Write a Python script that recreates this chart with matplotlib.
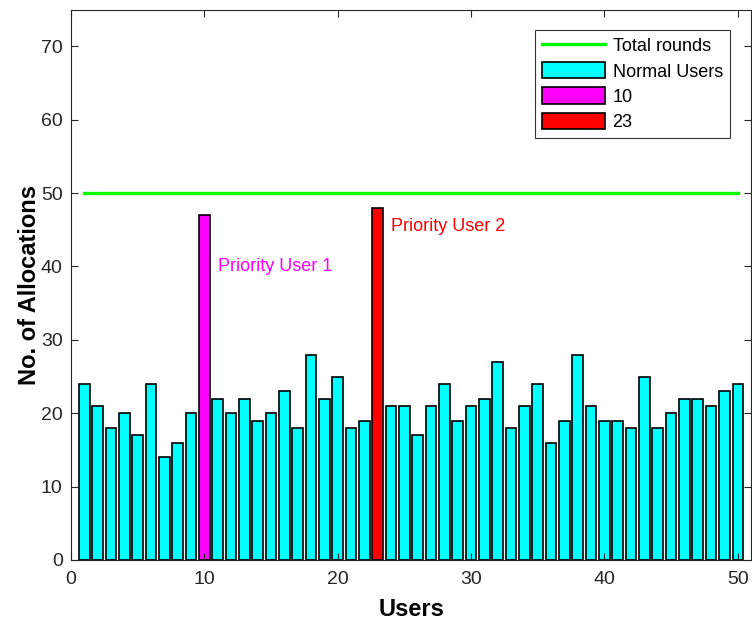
import matplotlib
matplotlib.use('Agg')
import matplotlib.pyplot as plt
import numpy as np

plt.rcParams['font.family'] = ['Liberation Sans', 'DejaVu Sans']

# allocations per user (users 1..50)
users = np.arange(1, 51)
allocations = [24, 21, 18, 20, 17, 24, 14, 16, 20, 47,
               22, 20, 22, 19, 20, 23, 18, 28, 22, 25,
               18, 19, 48, 21, 21, 17, 21, 24, 19, 21,
               22, 27, 18, 21, 24, 16, 19, 28, 21, 19,
               19, 18, 25, 18, 20, 22, 22, 21, 23, 24]
priority_users = [10, 23]
priority_colors = ['#ff00ff', '#ff0000']
priority_labels = ['Priority User 1', 'Priority User 2']
label_pos = [(11, 40), (24, 45.4)]
total_rounds = 50

allocations = np.array(allocations)
normal = ~np.isin(users, priority_users)

fig = plt.figure(figsize=(7.52, 6.24), dpi=100)
ax = fig.add_axes([0.0944, 0.1026, 0.9045, 0.882])

ax.plot([users[0], users[-1]], [total_rounds, total_rounds], color='#00ff00',
        lw=2.4, label='Total rounds', zorder=3)
ax.bar(users[normal], allocations[normal], width=0.8, color='#00ffff',
       edgecolor='black', linewidth=1.2, label='Normal Users')
for u, c in zip(priority_users, priority_colors):
    ax.bar(u, allocations[u - 1], width=0.8, color=c, edgecolor='black',
           linewidth=1.2, label=str(u))

for (tx, ty), txt, c in zip(label_pos, priority_labels, priority_colors):
    ax.text(tx, ty, txt, color=c, fontsize=13, va='center', ha='left')

ax.set_xlim(0, 51)
ax.set_ylim(0, 75)
ax.set_xticks(np.arange(0, 51, 10))
ax.set_yticks(np.arange(0, 71, 10))
ax.tick_params(direction='in', top=True, right=True, length=5, width=0.8,
               labelsize=14, colors='#262626', labelcolor='#262626')
ax.tick_params(axis='x', pad=8)
ax.tick_params(axis='y', pad=6)
for s in ax.spines.values():
    s.set_color('#262626')
    s.set_linewidth(0.8)

ax.set_xlabel('Users', fontsize=17, fontweight='bold', labelpad=7)
ax.set_ylabel('No. of Allocations', fontsize=17, fontweight='bold', labelpad=0)

leg = ax.legend(loc='upper right', bbox_to_anchor=(0.969, 0.963), fontsize=13,
                frameon=True, fancybox=False, edgecolor='black',
                handlelength=3.5, handleheight=1.0, borderpad=0.4,
                labelspacing=0.38, handletextpad=0.4, borderaxespad=0)
leg.get_frame().set_linewidth(0.8)

fig.savefig('out.png', dpi=100)
